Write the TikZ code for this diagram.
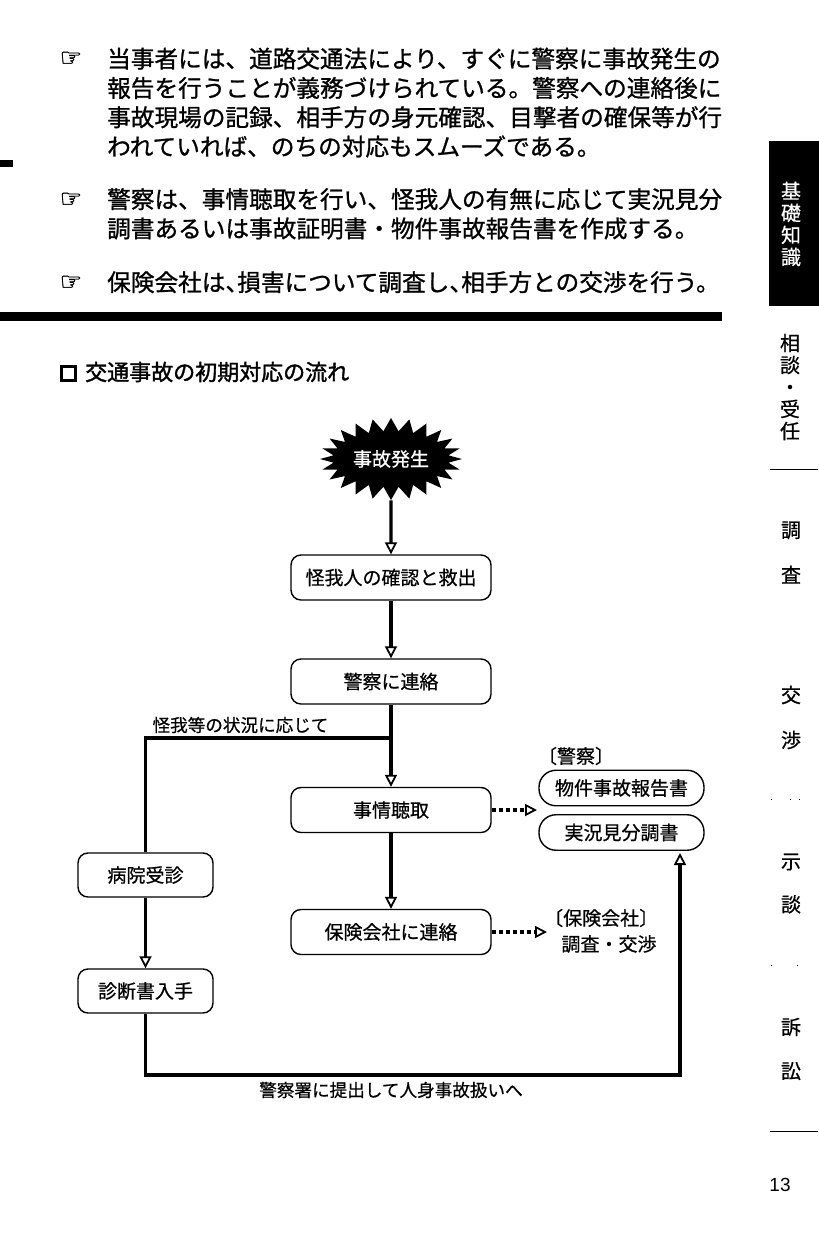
\documentclass[tikz,border=0pt]{standalone}
\usepackage{fontspec}
\usepackage{xcolor}
\usetikzlibrary{arrows.meta}
\usetikzlibrary{shapes.symbols}
\setmainfont{Noto Sans CJK JP}[FakeBold=0.6]
\newfontfamily\bodyfont{Noto Sans CJK JP}[FakeBold=1]
\newfontfamily\handfont{DejaVu Sans}[FakeBold=1.5]
\newfontfamily\boldfont{Noto Sans CJK JP}[FakeBold=1.6]
\newfontfamily\numfont{Liberation Sans}
\newcommand{\fsize}[1]{\fontsize{#1}{#1}\selectfont}

\begin{document}
\begin{tikzpicture}[x=1pt, y=-1pt,
    bodytext/.style = {anchor=north west, inner sep=0pt, align=left, font=\bodyfont\fontsize{23.65}{29.3}\selectfont},
    hand/.style = {inner sep=0pt, font=\handfont\fsize{25}},
    main/.style = {draw=black, line width=1.4pt, rounded corners=3.5mm, minimum width=200pt, minimum height=45pt, inner sep=0pt, font=\fsize{19}},
    side/.style = {main, minimum width=135pt, minimum height=44pt},
    report/.style = {main, rounded corners=17pt, minimum width=165pt, minimum height=35.5pt},
    label/.style = {inner sep=0pt, align=center, font=\fsize{17.6}},
    boxlabel/.style = {label, font=\fsize{19}},
    tab/.style = {inner sep=0pt, align=center, font=\fontsize{20}{22}\selectfont},
    rule/.style = {line width=1pt},
    flow/.style = {line width=3.4pt, -{Triangle[open, line width=1.8pt, length=12pt, width=12pt]}},
    thinflow/.style = {flow, line width=2.4pt},
    plain/.style = {line width=3.4pt},
    dots/.style = {flow, dash pattern=on 4pt off 3pt}]
    \useasboundingbox (0,0) rectangle (819,1240);
    \node[bodytext] (para1) at (107,47.5) {当事者には、道路交通法により、すぐに警察に事故発生の\\報告を行うことが義務づけられている。警察への連絡後に\\事故現場の記録、相手方の身元確認、目撃者の確保等が行\\われていれば、のちの対応もスムーズである。};
    \node[bodytext] (para2) at (107,188) {警察は、事情聴取を行い、怪我人の有無に応じて実況見分\\調書あるいは事故証明書・物件事故報告書を作成する。};
    \node[bodytext] (para3) at (107,271) {保険会社は、\kern-0.5em 損害について調査し、\kern-0.5em 相手方との交渉を行う。};
    \node[hand] (hand1) at (71,59) {☞};
    \node[hand] (hand2) at (71,200) {☞};
    \node[hand] (hand3) at (71,283) {☞};
    \fill (0,160) rectangle (13,167);
    \fill (0,311.5) rectangle (722,320.5);
    \node[draw=black, line width=2.4pt, minimum size=14pt, inner sep=0pt] (headbox) at (68.5,373.5) {};
    \node[inner sep=0pt, anchor=west, font=\boldfont\fsize{22}] (head) at (85,372) {交通事故の初期対応の流れ};

    \node[starburst, fill=black, text=white, inner sep=0pt, minimum width=142pt, minimum height=82pt, starburst points=24, starburst point height=13pt, random starburst=0, font=\fsize{19}] (burst) at (391,459) {事故発生};
    \node[main] (rescue) at (391,577.5) {怪我人の確認と救出};
    \node[main] (police) at (391,681.5) {警察に連絡};
    \node[main] (hearing) at (391,810) {事情聴取};
    \node[main] (insurer) at (391,932) {保険会社に連絡};
    \node[side] (hospital) at (145.5,875) {病院受診};
    \node[side] (certificate) at (145.5,991) {診断書入手};
    \node[report] (propertyreport) at (621.5,788) {物件事故報告書};
    \node[report] (sitereport) at (621.5,832.5) {実況見分調書};

    \node[label] (condition) at (240.5,725) {怪我等の状況に応じて};
    \node[label] (submit) at (391,1090) {警察署に提出して人身事故扱いへ};
    \node[boxlabel] (policehead) at (576,756) {〔警察〕};
    \node[boxlabel, anchor=west] (insurerhead) at (544,918) {〔保険会社〕};
    \node[boxlabel] (insurerwork) at (609,944) {調査・交渉};

    \coordinate (branch) at (391,738);
    \coordinate (corner) at (680,1075);
    \coordinate (reportin) at (680,853);
    \coordinate (hearingend) at (537,810);
    \coordinate (insurerend) at (547,932);

    \draw[flow] (burst) -- (rescue);
    \draw[flow] (rescue) -- (police);
    \draw[flow] (police) -- (hearing);
    \draw[flow] (hearing) -- (insurer);
    \draw[plain] (branch) -| (hospital);
    \draw[thinflow] (hospital) -- (certificate);
    \draw[flow] (certificate) |- (corner) -- (reportin);
    \draw[dots] (hearing) -- (hearingend);
    \draw[dots] (insurer) -- (insurerend);

    \fill (769,141) rectangle (819,306);
    \node[tab, text=white] (tabbasic) at (791,224) {基\\礎\\知\\識};
    \node[tab] (tabconsult) at (790,387) {相\\談\\・\\受\\任};
    \draw[rule] (770,469) -- (818,469);
    \node[tab] (tabsurvey) at (791,552.5) {調\\[23pt]査};
    \node[tab] (tabtalks) at (791,717.5) {交\\[23pt]渉};
    \foreach \x in {771,790,799}
        \fill (\x,799) rectangle +(1,1);
    \node[tab] (tabsettle) at (791,883.5) {示\\[21pt]談};
    \foreach \x in {771,797}
        \fill (\x,965) rectangle +(1,1);
    \node[tab] (tabsuit) at (791,1049) {訴\\[22pt]訟};
    \draw[rule] (770,1131) -- (818,1131);
    \node[inner sep=0pt, font=\numfont\fsize{19}] (pageno) at (780,1185) {13};
\end{tikzpicture}
\end{document}
